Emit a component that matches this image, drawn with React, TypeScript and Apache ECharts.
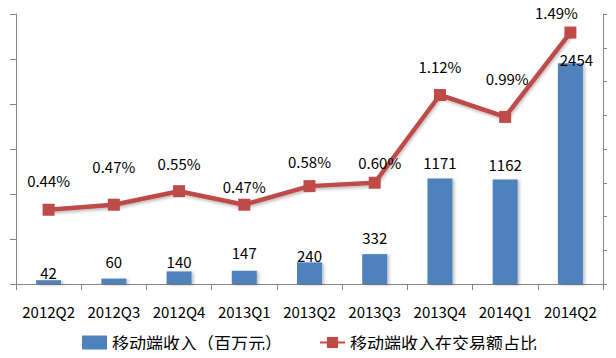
import React, { useEffect, useRef } from "react";
import * as echarts from "echarts";

const categories = ["2012Q2", "2012Q3", "2012Q4", "2013Q1", "2013Q2", "2013Q3", "2013Q4", "2014Q1", "2014Q2"];
const revenue = [42, 60, 140, 147, 240, 332, 1171, 1162, 2454];
const share = [0.44, 0.47, 0.55, 0.47, 0.58, 0.6, 1.12, 0.99, 1.49];
const barName = "移动端收入（百万元）";
const lineName = "移动端收入在交易额占比";

// label placement nudges (styling only)
const barLabelGap = [0.5, 9.5, 2.5, 10.5, -0.5, 9.5, 8.5, 7.5, -3.5];
const barLabelDx = [0, 0, 0, 0, 0, 0, 0, 0, 6];
const lineLabelGap = [15.5, 24.5, 14.5, 4.5, 11.5, 6.5, 15.5, 24.5, 6.5];
const lineLabelDx = [0, 0, 0, 0, 0, 5, 0, 2, -14];

const FONT = "'Noto Sans CJK SC', 'Liberation Sans', sans-serif";

export default function App() {
  const ref = useRef<HTMLDivElement>(null);
  useEffect(() => {
    const chart = echarts.init(ref.current!, null, { renderer: "svg" });
    const axisColor = "#868686";
    chart.setOption({
      animation: false,
      textStyle: { fontFamily: FONT },
      grid: { left: 16, right: 13, top: 14, bottom: 74 },
      legend: {
        left: 77,
        top: 329,
        itemGap: 37,
        textStyle: { fontSize: 17, color: "#000", fontFamily: FONT },
        data: [
          { name: barName, icon: "rect", itemStyle: { color: "#4F81BD" } },
          { name: lineName },
        ],
      },
      xAxis: {
        type: "category",
        data: categories,
        axisLine: { lineStyle: { color: axisColor } },
        axisTick: { show: true, length: 6, lineStyle: { color: axisColor } },
        axisLabel: { color: "#000", fontSize: 15, margin: 20, interval: 0, fontFamily: FONT },
      },
      yAxis: [
        {
          type: "value",
          min: 0,
          max: 3000,
          interval: 500,
          axisLine: { show: true, lineStyle: { color: axisColor } },
          axisTick: { show: true, length: 6, lineStyle: { color: axisColor } },
          axisLabel: { show: false },
          splitLine: { show: false },
        },
        {
          type: "value",
          min: 0,
          max: 1.6,
          interval: 0.2,
          position: "right",
          axisLine: { show: true, lineStyle: { color: axisColor } },
          axisTick: { show: true, length: 4, lineStyle: { color: axisColor } },
          axisLabel: { show: false },
          splitLine: { show: false },
        },
      ],
      series: [
        {
          name: barName,
          type: "bar",
          data: revenue.map((v, i) => ({
            value: v,
            label: { distance: barLabelGap[i], offset: [barLabelDx[i], 0] },
          })),
          barWidth: 25,
          itemStyle: {
            color: "#4F81BD",
            shadowColor: "rgba(0,0,0,0.25)",
            shadowBlur: 3,
            shadowOffsetX: 2,
            shadowOffsetY: 1,
          },
          label: {
            show: true,
            position: "top",
            fontSize: 15,
            color: "#000",
            fontFamily: FONT,
          },
        },
        {
          name: lineName,
          type: "line",
          yAxisIndex: 1,
          data: share.map((v, i) => ({
            value: v,
            label: { distance: lineLabelGap[i], offset: [lineLabelDx[i], 0] },
          })),
          symbol: "rect",
          symbolSize: 12,
          lineStyle: {
            color: "#BE4B48",
            width: 4.5,
            shadowColor: "rgba(0,0,0,0.25)",
            shadowBlur: 3,
            shadowOffsetX: 1,
            shadowOffsetY: 2,
          },
          itemStyle: { color: "#BE4B48" },
          label: {
            show: true,
            position: "top",
            fontSize: 15,
            color: "#000",
            fontFamily: FONT,
            formatter: (p: any) => Number(p.value).toFixed(2) + "%",
          },
        },
      ],
    });
    return () => chart.dispose();
  }, []);
  return <div ref={ref} style={{ width: 616, height: 358, margin: -8 }} />;
}
